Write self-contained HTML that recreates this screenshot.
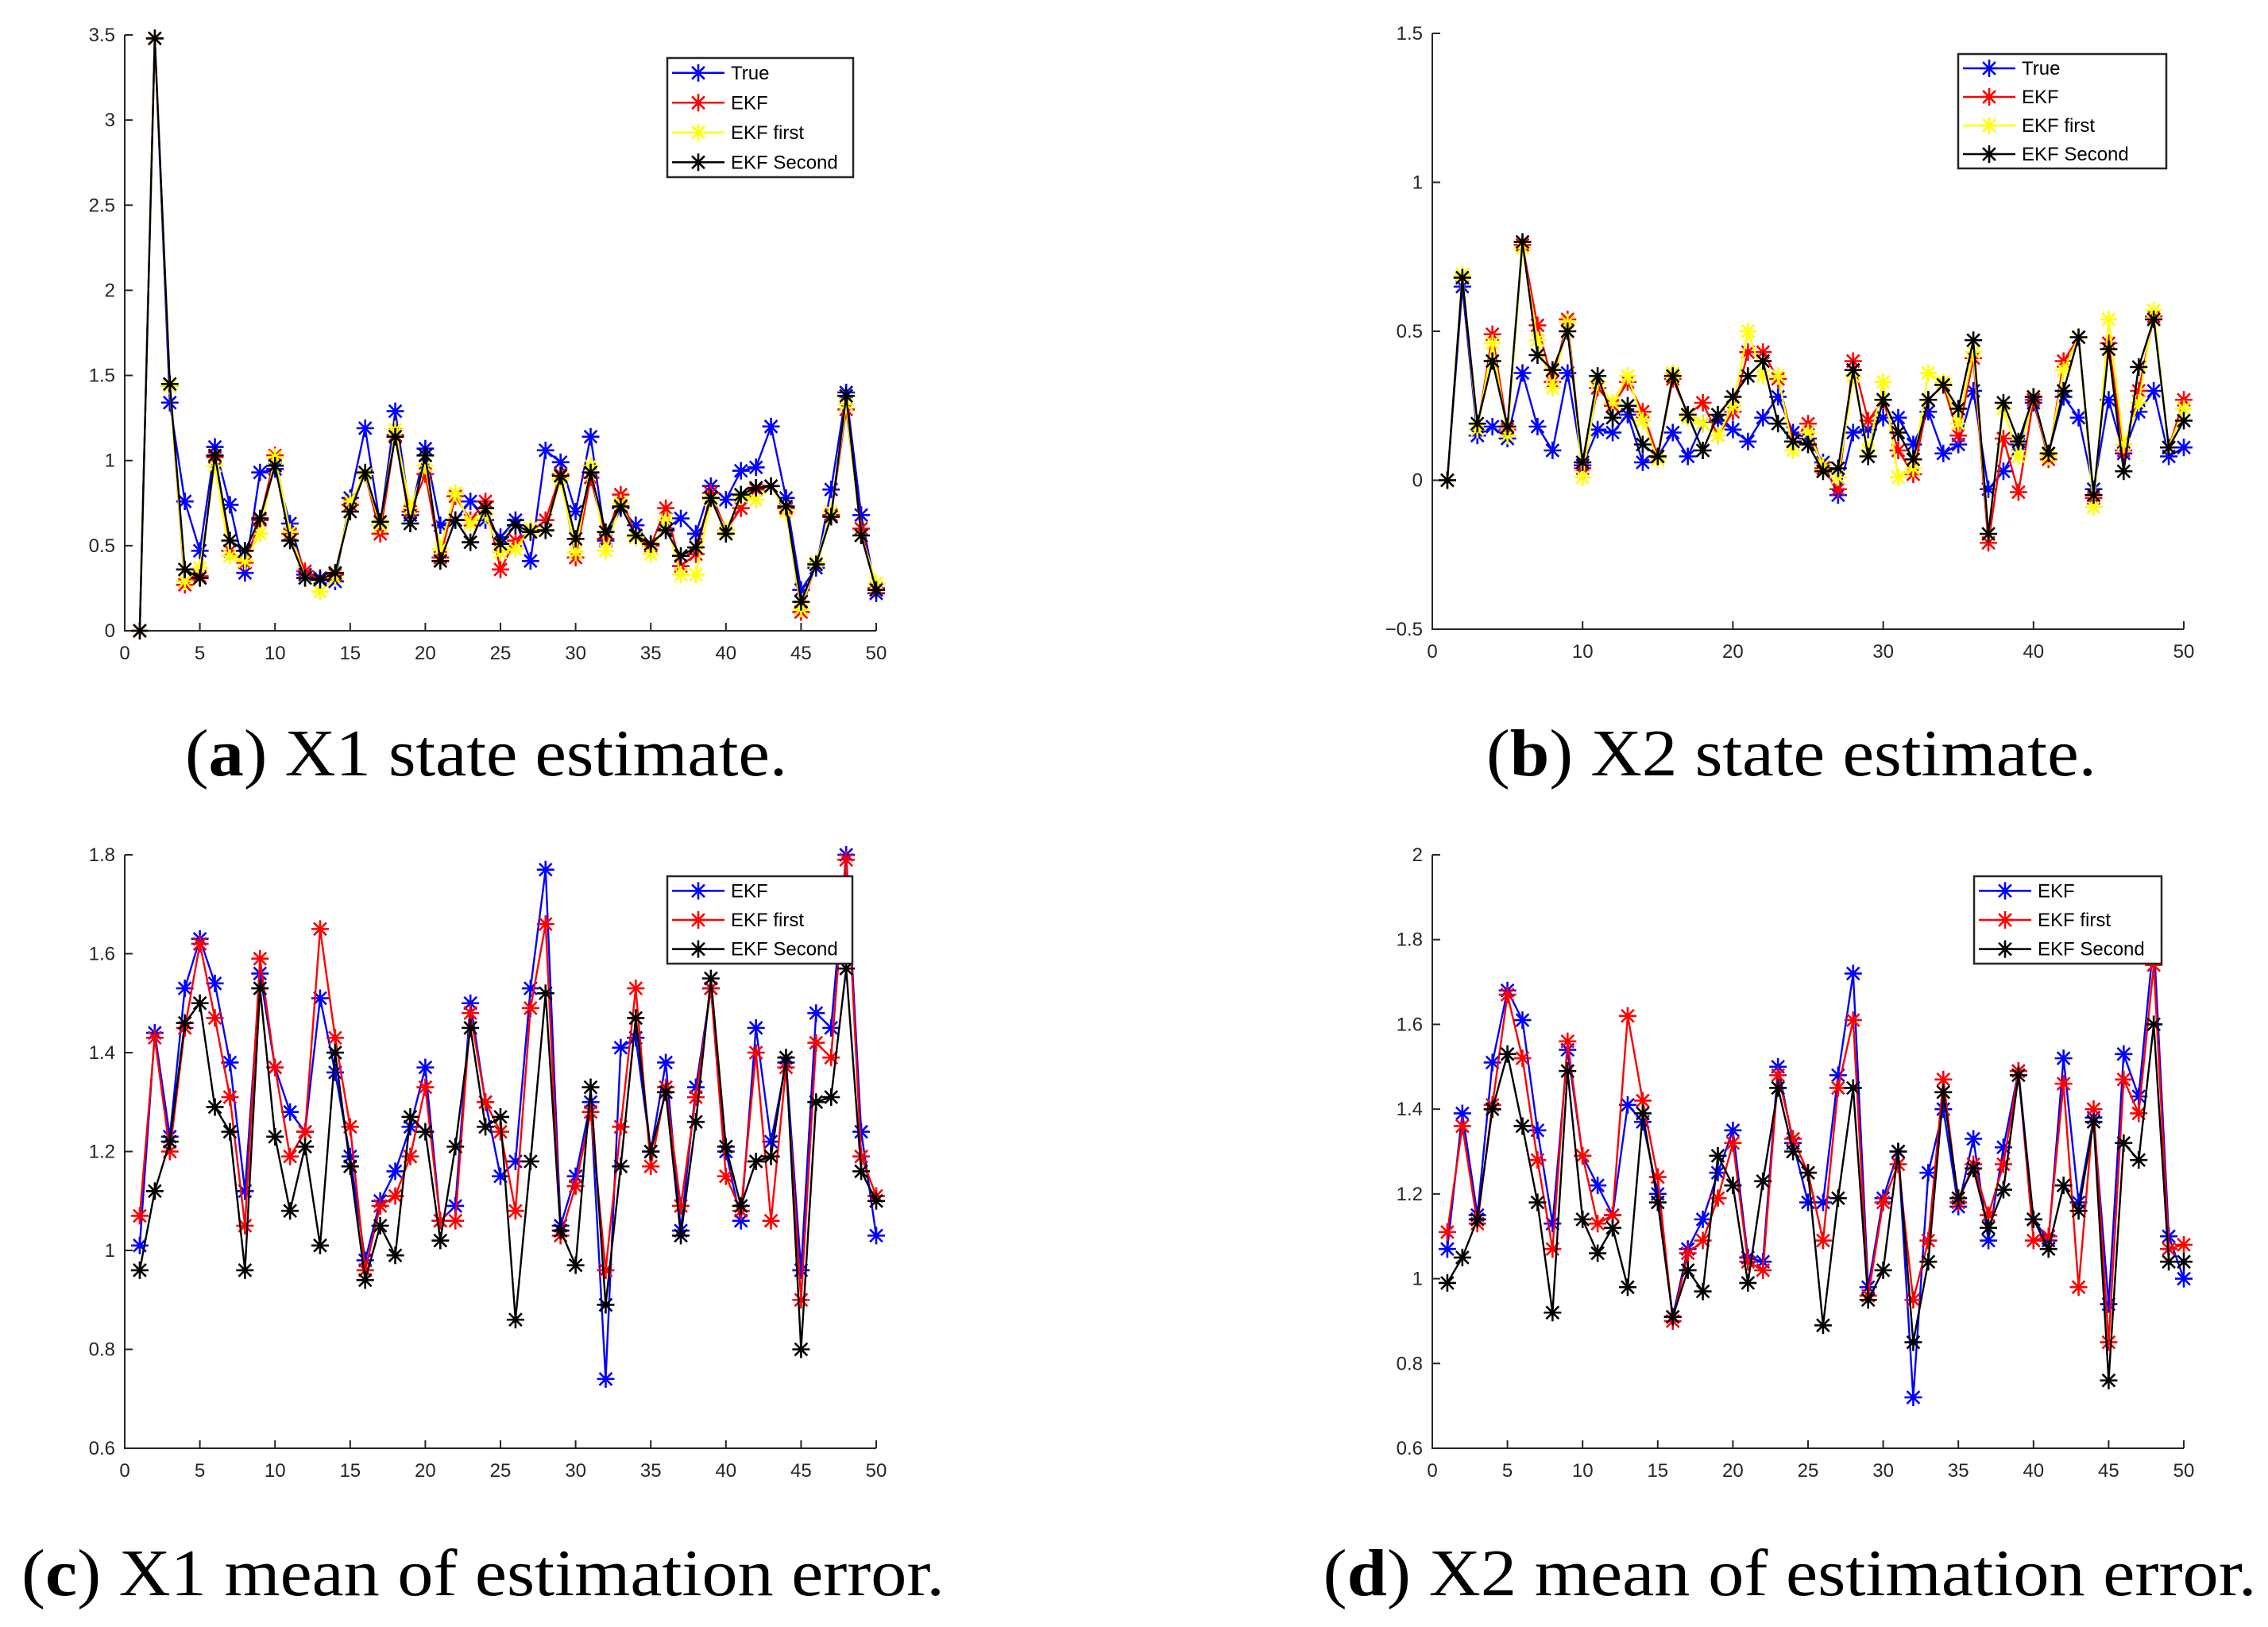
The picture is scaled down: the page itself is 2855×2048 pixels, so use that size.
<!DOCTYPE html>
<html><head><meta charset="utf-8"><style>
html,body{margin:0;padding:0;background:#fff;}
svg{display:block;}
</style></head><body>
<svg id="fig" width="2855" height="2048" viewBox="0 0 2855 2048" xmlns="http://www.w3.org/2000/svg"></svg>
<script>
// Panel A: X1 state estimate
const aTrue=[0,3.48,1.34,0.76,0.47,1.08,0.74,0.34,0.93,0.95,0.63,0.33,0.31,0.29,0.78,1.19,0.62,1.29,0.68,1.07,0.62,0.65,0.76,0.65,0.55,0.65,0.41,1.06,0.99,0.70,1.14,0.53,0.72,0.62,0.50,0.60,0.66,0.57,0.85,0.77,0.94,0.96,1.20,0.78,0.24,0.37,0.83,1.40,0.68,0.22];
const aEKF=[0,3.48,1.44,0.27,0.32,1.02,0.47,0.40,0.65,1.03,0.57,0.35,0.30,0.33,0.74,0.92,0.57,1.15,0.70,0.92,0.43,0.79,0.65,0.76,0.36,0.53,0.58,0.65,0.92,0.43,0.90,0.54,0.80,0.55,0.50,0.72,0.38,0.45,0.81,0.59,0.72,0.83,0.85,0.72,0.11,0.40,0.68,1.30,0.60,0.25];
const aFirst=[0,3.48,1.44,0.29,0.37,0.97,0.44,0.41,0.57,1.02,0.58,0.31,0.23,0.31,0.76,0.92,0.62,1.18,0.72,0.97,0.48,0.81,0.63,0.68,0.46,0.48,0.60,0.59,0.89,0.46,0.97,0.47,0.75,0.55,0.45,0.65,0.33,0.33,0.77,0.59,0.79,0.77,0.85,0.70,0.13,0.40,0.70,1.33,0.56,0.28];
const aSecond=[0,3.48,1.45,0.36,0.31,1.03,0.53,0.47,0.66,0.97,0.53,0.31,0.30,0.34,0.70,0.93,0.64,1.14,0.63,1.03,0.41,0.65,0.52,0.72,0.51,0.62,0.58,0.59,0.91,0.54,0.93,0.58,0.73,0.56,0.51,0.59,0.44,0.49,0.78,0.57,0.80,0.84,0.85,0.73,0.17,0.39,0.67,1.38,0.56,0.24];
const aYTicks=[0,0.5,1,1.5,2,2.5,3,3.5];
const aYLabels=["0","0.5","1","1.5","2","2.5","3","3.5"];
// Panel B: X2 state estimate
const bTrue=[0,0.65,0.15,0.18,0.14,0.36,0.18,0.10,0.36,0.05,0.17,0.16,0.22,0.06,0.08,0.16,0.08,0.19,0.20,0.17,0.13,0.21,0.28,0.16,0.14,0.06,-0.05,0.16,0.17,0.21,0.21,0.12,0.23,0.09,0.12,0.30,-0.03,0.03,0.12,0.26,0.09,0.28,0.21,-0.03,0.27,0.09,0.23,0.30,0.08,0.11];
const bEKF=[0,0.68,0.17,0.49,0.17,0.79,0.52,0.33,0.54,0.04,0.31,0.25,0.33,0.23,0.08,0.34,0.22,0.26,0.15,0.23,0.43,0.43,0.34,0.13,0.19,0.04,-0.03,0.40,0.20,0.27,0.10,0.02,0.27,0.32,0.15,0.41,-0.21,0.14,-0.04,0.27,0.07,0.40,0.48,-0.06,0.46,0.10,0.30,0.55,0.11,0.27];
const bFirst=[0,0.69,0.17,0.46,0.15,0.78,0.47,0.31,0.53,0.01,0.33,0.26,0.35,0.20,0.07,0.36,0.21,0.19,0.15,0.25,0.50,0.35,0.35,0.10,0.16,0.05,0.01,0.35,0.10,0.33,0.01,0.04,0.36,0.33,0.19,0.43,-0.18,0.24,0.08,0.28,0.08,0.37,0.48,-0.09,0.54,0.12,0.26,0.57,0.11,0.24];
const bSecond=[0,0.68,0.19,0.40,0.18,0.80,0.42,0.37,0.50,0.06,0.35,0.21,0.25,0.12,0.08,0.35,0.22,0.10,0.22,0.28,0.35,0.40,0.19,0.13,0.12,0.03,0.04,0.37,0.08,0.27,0.16,0.07,0.27,0.32,0.24,0.47,-0.18,0.26,0.13,0.28,0.09,0.30,0.48,-0.05,0.44,0.03,0.38,0.54,0.11,0.20];
const bYTicks=[-0.5,0,0.5,1,1.5];
const bYLabels=["\u22120.5","0","0.5","1","1.5"];
// Panel C: X1 mean of estimation error
const cEKF=[1.01,1.44,1.23,1.53,1.63,1.54,1.38,1.12,1.56,1.37,1.28,1.24,1.51,1.36,1.19,0.98,1.10,1.16,1.25,1.37,1.06,1.09,1.50,1.30,1.15,1.18,1.53,1.77,1.05,1.15,1.30,0.74,1.41,1.43,1.20,1.38,1.04,1.33,1.53,1.20,1.06,1.45,1.22,1.38,0.96,1.48,1.45,1.80,1.24,1.03];
const cFirst=[1.07,1.43,1.20,1.45,1.62,1.47,1.31,1.05,1.59,1.37,1.19,1.24,1.65,1.43,1.25,0.96,1.09,1.11,1.19,1.33,1.06,1.06,1.48,1.30,1.24,1.08,1.49,1.66,1.03,1.13,1.28,0.96,1.25,1.53,1.17,1.33,1.09,1.31,1.53,1.15,1.08,1.40,1.06,1.37,0.90,1.42,1.39,1.79,1.19,1.11];
const cSecond=[0.96,1.12,1.22,1.46,1.50,1.29,1.24,0.96,1.53,1.23,1.08,1.21,1.01,1.40,1.17,0.94,1.05,0.99,1.27,1.24,1.02,1.21,1.45,1.25,1.27,0.86,1.18,1.52,1.04,0.97,1.33,0.89,1.17,1.47,1.20,1.32,1.03,1.26,1.55,1.21,1.09,1.18,1.19,1.39,0.80,1.30,1.31,1.57,1.16,1.10];
const cYTicks=[0.6,0.8,1,1.2,1.4,1.6,1.8];
const cYLabels=["0.6","0.8","1","1.2","1.4","1.6","1.8"];
// Panel D: X2 mean of estimation error
const dEKF=[1.07,1.39,1.15,1.51,1.68,1.61,1.35,1.13,1.54,1.29,1.22,1.15,1.41,1.37,1.20,0.91,1.07,1.14,1.25,1.35,1.05,1.04,1.50,1.32,1.18,1.18,1.48,1.72,0.98,1.19,1.30,0.72,1.25,1.40,1.17,1.33,1.09,1.31,1.49,1.14,1.09,1.52,1.18,1.38,0.94,1.53,1.43,1.80,1.10,1.00];
const dFirst=[1.11,1.36,1.13,1.41,1.67,1.52,1.28,1.07,1.56,1.29,1.13,1.15,1.62,1.42,1.24,0.90,1.06,1.09,1.19,1.32,1.04,1.02,1.48,1.33,1.25,1.09,1.45,1.61,0.96,1.18,1.27,0.95,1.09,1.47,1.18,1.27,1.15,1.27,1.49,1.09,1.10,1.46,0.98,1.40,0.85,1.47,1.39,1.74,1.07,1.08];
const dSecond=[0.99,1.05,1.14,1.40,1.53,1.36,1.18,0.92,1.49,1.14,1.06,1.12,0.98,1.39,1.18,0.91,1.02,0.97,1.29,1.22,0.99,1.23,1.45,1.30,1.25,0.89,1.19,1.45,0.95,1.02,1.30,0.85,1.04,1.44,1.19,1.26,1.12,1.21,1.48,1.14,1.07,1.22,1.16,1.37,0.76,1.32,1.28,1.60,1.04,1.04];
const dYTicks=[0.6,0.8,1,1.2,1.4,1.6,1.8,2];
const dYLabels=["0.6","0.8","1","1.2","1.4","1.6","1.8","2"];
const xTicks5=[0,5,10,15,20,25,30,35,40,45,50];
const xTicks10=[0,10,20,30,40,50];

const NS="http://www.w3.org/2000/svg";
const svg=document.getElementById('fig');
function mk(tag,attrs,parent){const e=document.createElementNS(NS,tag);for(const k in attrs)e.setAttribute(k,attrs[k]);(parent||svg).appendChild(e);return e;}
function star(g,x,y,col){
  const r=11,d=r*0.72;
  mk('path',{d:`M${x-r},${y}H${x+r}M${x},${y-r}V${y+r}M${x-d},${y-d}L${x+d},${y+d}M${x-d},${y+d}L${x+d},${y-d}`,stroke:col,'stroke-width':2.6,fill:'none'},g);
}
function panel(id,L,R,T,B,ymin,ymax,yt,yl,xt,series,font,legend){
  const g=mk('g',{});
  
  
  const xs=v=>L+(v-0)/(50-0)*(R-L);
  const ys=v=>B-(v-ymin)/(ymax-ymin)*(B-T);
  const ax=mk('path',{d:`M${L},${T}V${B}H${R}`,stroke:'#262626','stroke-width':2,fill:'none'},g);
  
  
  yt.forEach((v,i)=>{
    mk('line',{x1:L,x2:L+10,y1:ys(v),y2:ys(v),stroke:'#262626','stroke-width':2},g);
    const t=mk('text',{x:L-12,y:ys(v)+8,'text-anchor':'end','font-size':24,'font-family':font,fill:'#262626'},g);
    t.textContent=yl[i];
    
    
  });
  xt.forEach(v=>{
    mk('line',{x1:xs(v),x2:xs(v),y1:B,y2:B-10,stroke:'#262626','stroke-width':2},g);
    const t=mk('text',{x:xs(v),y:B+36,'text-anchor':'middle','font-size':24,'font-family':font,fill:'#262626'},g);
    t.textContent=String(v);
    
    
  });
  series.forEach(s=>{
    const sg=mk('g',{},g);
    
    
    const pts=s.data.map((v,i)=>xs(i+1).toFixed(1)+','+ys(v).toFixed(1)).join(' ');
    mk('polyline',{points:pts,fill:'none',stroke:s.col,'stroke-width':2.4},sg);
    s.data.forEach((v,i)=>star(sg,xs(i+1),ys(v),s.col));
  });
  // legend
  const [lx,ly,lw,lh]=legend;
  const lg=mk('g',{},g);
  
  
  mk('rect',{x:lx,y:ly,width:lw,height:lh,fill:'#fff',stroke:'#262626','stroke-width':2.5},lg);
  const step=lh/series.length;
  series.forEach((s,i)=>{
    const cy=ly+step*(i+0.5);
    const e=mk('g',{},lg);
    
    
    mk('line',{x1:lx+6,x2:lx+72,y1:cy,y2:cy,stroke:s.col,'stroke-width':2.6},e);
    star(e,lx+39,cy,s.col);
    const t=mk('text',{x:lx+80,y:cy+8,'font-size':24,'font-family':font,fill:'#000'},e);
    t.textContent=s.name;
  });
}
const sans='"Liberation Sans", sans-serif', serif='"Liberation Serif", serif';
panel('x1-state',157,1103,44,794,0,3.5,aYTicks,aYLabels,xTicks5,[
 {key:'true',name:'True',col:'#0000ff',data:aTrue},
 {key:'ekf',name:'EKF',col:'#ff0000',data:aEKF},
 {key:'ekf-first',name:'EKF first',col:'#ffff00',data:aFirst},
 {key:'ekf-second',name:'EKF Second',col:'#000000',data:aSecond}],sans,[840,73,234,150]);
panel('x2-state',1803,2749,42,792,-0.5,1.5,bYTicks,bYLabels,xTicks10,[
 {key:'true',name:'True',col:'#0000ff',data:bTrue},
 {key:'ekf',name:'EKF',col:'#ff0000',data:bEKF},
 {key:'ekf-first',name:'EKF first',col:'#ffff00',data:bFirst},
 {key:'ekf-second',name:'EKF Second',col:'#000000',data:bSecond}],sans,[2465,68,262,144]);
panel('x1-error',157,1103,1076,1823,0.6,1.8,cYTicks,cYLabels,xTicks5,[
 {key:'ekf',name:'EKF',col:'#0000ff',data:cEKF},
 {key:'ekf-first',name:'EKF first',col:'#ff0000',data:cFirst},
 {key:'ekf-second',name:'EKF Second',col:'#000000',data:cSecond}],sans,[840,1103,233,110]);
panel('x2-error',1803,2749,1076,1823,0.6,2,dYTicks,dYLabels,xTicks5,[
 {key:'ekf',name:'EKF',col:'#0000ff',data:dEKF},
 {key:'ekf-first',name:'EKF first',col:'#ff0000',data:dFirst},
 {key:'ekf-second',name:'EKF Second',col:'#000000',data:dSecond}],sans,[2485,1103,236,110]);
function caption(name,cx,y,letter,rest,w){
  const t=mk('text',{x:cx,y:y,'text-anchor':'middle','font-size':84,'font-family':serif,fill:'#000',textLength:w,lengthAdjust:'spacingAndGlyphs'});
  
  
  const a=mk('tspan',{},t);a.textContent='(';
  const b=mk('tspan',{'font-weight':'bold'},t);b.textContent=letter;
  const c=mk('tspan',{},t);c.textContent=') '+rest;
}
caption('caption-a',612,976,'a','X1 state estimate.',758);
caption('caption-b',2255,976,'b','X2 state estimate.',768);
caption('caption-c',608,2008,'c','X1 mean of estimation error.',1162);
caption('caption-d',2253,2008,'d','X2 mean of estimation error.',1175);
</script>
</body></html>
